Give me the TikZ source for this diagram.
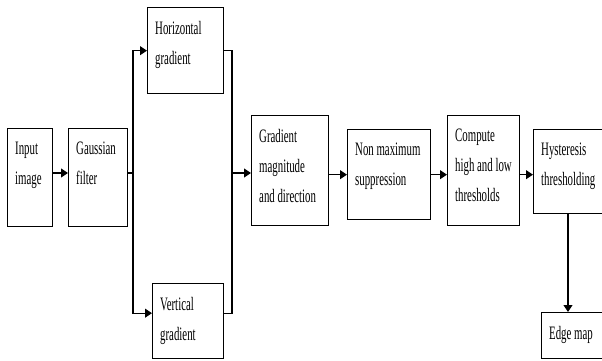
\documentclass[tikz,border=0pt]{standalone}
\usepackage{fontspec}
\setmainfont{Liberation Serif}[FakeStretch=0.57]
\usepackage{tikz}
\usetikzlibrary{arrows.meta}

\tikzset{
  blk/.style={draw, line width=1.3pt, anchor=north west, inner sep=0pt},
  txt/.style={anchor=north west, align=left, inner xsep=8pt, inner ysep=14pt,
    font=\fontsize{19}{30}\selectfont},
  wire/.style={line width=1.1pt},
  arr/.style={wire, -{Triangle[length=7pt, width=9pt]}}
}

\begin{document}
\begin{tikzpicture}[x=1pt, y=-1pt]
    % page size
    \path[use as bounding box, clip] (0,0) rectangle (602,360);

    % the boxes of the chain
    \node[blk, minimum width=45, minimum height=98, label={[txt]north west:Input\\image}] (in) at (7,128) {};
    \node[blk, minimum width=59, minimum height=98, label={[txt]north west:Gaussian\\filter}] (gauss) at (68,128) {};
    \node[blk, minimum width=76, minimum height=86, label={[txt]north west:Horizontal\\gradient}] (hor) at (147,7) {};
    \node[blk, minimum width=71, minimum height=75, label={[txt]north west:Vertical\\gradient}] (ver) at (152,283) {};
    \node[blk, minimum width=77, minimum height=110, label={[txt]north west:Gradient\\magnitude\\and direction}] (grad) at (251,115) {};
    \node[blk, minimum width=83, minimum height=90, label={[txt]north west:Non maximum\\suppression}] (nms) at (347,129) {};
    \node[blk, minimum width=72, minimum height=110, label={[txt]north west:Compute\\high and low\\thresholds}] (comp) at (447,115) {};
    \node[blk, minimum width=110, minimum height=84, label={[txt]north west:Hysteresis\\thresholding}] (hyst) at (533,129) {};
    \node[blk, minimum width=100, minimum height=46, label={[txt]north west:Edge map}] (edge) at (541,312) {};

    % branch points
    \coordinate (split) at (133,173);
    \coordinate (join) at (232,173);
    \coordinate (drop) at (568,0);

    % input to filter
    \draw[arr] (in.east |- split) -- (gauss.west |- split);

    % filter to both gradients
    \draw[wire] (gauss.east |- split) -- (split);
    \draw[arr] (split) |- (hor.west);
    \draw[arr] (split) |- ([yshift=8pt]ver.west);

    % both gradients to magnitude
    \draw[wire] (hor.east) -| (join);
    \draw[wire] ([yshift=8pt]ver.east) -| (join);
    \draw[arr] (join) -- (join -| grad.west);

    % the rest of the chain
    \draw[arr] (grad.east |- nms.west) -- (nms.west);
    \draw[arr] (nms.east) -- (nms.east -| comp.west);
    \draw[arr] (nms.east -| comp.east) -- (nms.east -| hyst.west);
    \draw[arr] (hyst.south -| drop) -- (edge.north -| drop);

  \end{tikzpicture}
\end{document}
